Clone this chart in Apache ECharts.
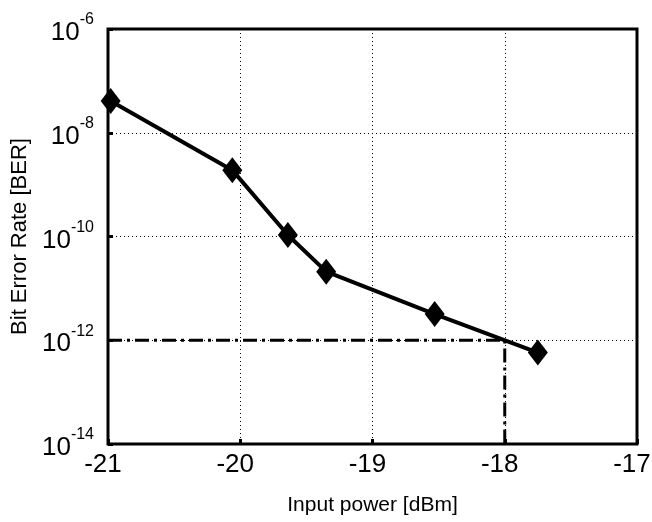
<!DOCTYPE html>
<html>
<head>
<meta charset="utf-8">
<script src="https://cdn.jsdelivr.net/npm/echarts@6/dist/echarts.min.js"></script>
<style>
html, body { margin: 0; padding: 0; background: #fff; }
#chart { width: 652px; height: 522px; }
</style>
</head>
<body>
<div id="chart"></div>
<script>
// measured points (input power in dBm, BER)
var power = [-20.98, -20.06, -19.64, -19.35, -18.53, -17.75];
var ber = [4.1e-8, 1.9e-9, 1.07e-10, 2.1e-11, 3.2e-12, 5.8e-13];

// BER threshold guide line
var guidePower = [-21, -18, -18];
var guideBer = [1e-12, 1e-12, 1e-14];

var xTicks = [-21, -20, -19, -18, -17];

var chart = echarts.init(document.getElementById('chart'));

var font = 'Liberation Sans, Arial, Helvetica, sans-serif';

var option = {
    animation: false,
    grid: {
        left: 108, top: 29, right: 15, bottom: 78,
        outerBoundsMode: 'none',
        show: true, borderColor: '#000', borderWidth: 3
    },
    xAxis: {
        type: 'value',
        min: xTicks[0], max: xTicks[xTicks.length - 1], interval: 1,
        name: 'Input power [dBm]',
        nameLocation: 'middle', nameGap: 51,
        nameTextStyle: { fontFamily: font, fontSize: 21, color: '#000' },
        axisLine: { show: false },
        axisTick: { show: true, inside: true, length: 5, lineStyle: { color: '#000', width: 3 } },
        axisLabel: { fontFamily: font, fontSize: 26, color: '#000', margin: 8, padding: [0, 10, 0, 0] },
        splitLine: { show: true, lineStyle: { color: '#000', type: [1, 3], width: 1 } }
    },
    yAxis: {
        type: 'log', logBase: 10,
        min: 1e-14, max: 1e-6, interval: 2,
        name: 'Bit Error Rate [BER]',
        nameLocation: 'middle', nameGap: 72,
        nameTextStyle: { fontFamily: font, fontSize: 22, color: '#000' },
        axisLine: { show: false },
        axisTick: { show: true, inside: true, length: 5, lineStyle: { color: '#000', width: 3 } },
        axisLabel: {
            margin: 14,
            formatter: function (v) {
                var e = Math.round(Math.log10(v));
                return '{b|10}{s|' + e + '}';
            },
            rich: {
                b: { fontFamily: font, fontSize: 26, color: '#000', lineHeight: 34, verticalAlign: 'bottom' },
                s: { fontFamily: font, fontSize: 16, color: '#000', lineHeight: 34, verticalAlign: 'top', padding: [0, 0, 14, 0] }
            }
        },
        splitLine: { show: true, lineStyle: { color: '#000', type: [1, 3], width: 1 } }
    },
    series: [
        {
            type: 'line',
            data: guidePower.map(function (p, i) { return [p, guideBer[i]]; }),
            showSymbol: false,
            lineStyle: { color: '#000', width: 3, type: [14, 5, 3, 5] },
            z: 3
        },
        {
            type: 'line',
            data: power.map(function (p, i) { return [p, ber[i]]; }),
            symbol: 'diamond',
            symbolSize: [20, 26],
            itemStyle: { color: '#000' },
            lineStyle: { color: '#000', width: 4 },
            z: 4
        }
    ]
};

chart.setOption(option);
</script>
</body>
</html>
